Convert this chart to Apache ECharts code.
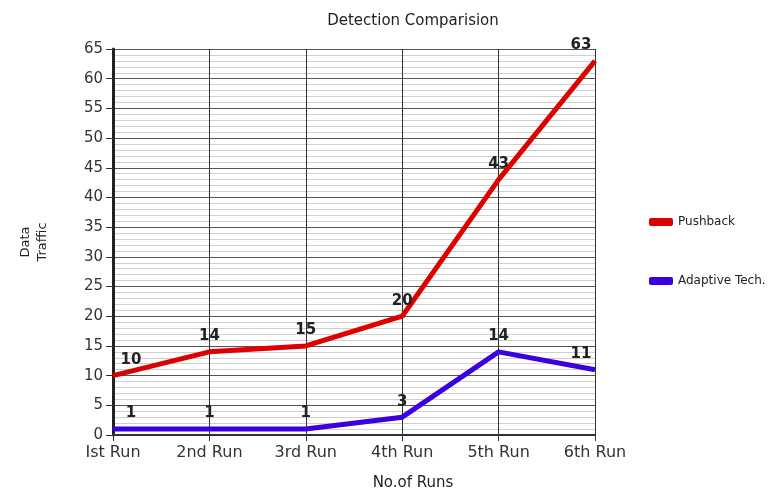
<!DOCTYPE html>
<html>
<head>
<meta charset="utf-8">
<script src="https://cdn.jsdelivr.net/npm/echarts@6/dist/echarts.min.js"></script>
<style>
  html, body { margin: 0; padding: 0; background: #fff; }
  #chart { width: 771px; height: 488px; }
</style>
</head>
<body>
<div id="chart"></div>
<script>
const runs = ['Ist Run', '2nd Run', '3rd Run', '4th Run', '5th Run', '6th Run'];
const pushback = [10, 14, 15, 20, 43, 63];
const adaptive = [1, 1, 1, 3, 14, 11];

const chart = echarts.init(document.getElementById('chart'), null, { renderer: 'canvas' });

// nudge first/last labels so they stay inside the plot like the original
const withLabels = (vals) => vals.map((v, i) => {
    let off = [0, 0];
    if (i === 0) off = [18, 0];
    if (i === vals.length - 1) off = [-14, 0];
    return { value: v, label: { offset: off } };
});

const labelStyle = {
    show: true,
    position: 'top',
    distance: 8,
    fontSize: 15,
    fontWeight: 'bold',
    color: '#222',
    fontFamily: 'DejaVu Sans'
};

const option = {
    animation: false,
    textStyle: { fontFamily: 'DejaVu Sans' },
    title: [
        {
            text: 'Detection Comparision',
            left: 408, top: 9, textAlign: 'center',
            textStyle: { fontSize: 15, fontWeight: 'normal', color: '#222' }
        },
        {
            text: 'No.of Runs',
            left: 408, top: 471, textAlign: 'center',
            textStyle: { fontSize: 15, fontWeight: 'normal', color: '#222' }
        }
    ],
    legend: {
        orient: 'vertical',
        left: 644, top: 211,
        itemGap: 47,
        itemWidth: 24, itemHeight: 8,
        icon: 'roundRect',
        textStyle: { fontSize: 12, color: '#222' },
        data: ['Pushback', 'Adaptive Tech.']
    },
    grid: { left: 113, right: 176, top: 49, bottom: 53 },
    xAxis: {
        type: 'category',
        data: runs,
        boundaryGap: false,
        axisLine: { lineStyle: { color: '#333', width: 2 } },
        axisTick: { show: true, length: 6, lineStyle: { color: '#333' } },
        axisLabel: { fontSize: 16, color: '#333', margin: 10 },
        splitLine: { show: true, lineStyle: { color: '#333', width: 1 } }
    },
    yAxis: {
        type: 'value',
        min: 0, max: 65, interval: 5,
        name: 'Data\nTraffic',
        nameLocation: 'middle',
        nameRotate: 90,
        nameGap: 62,
        nameTextStyle: { fontSize: 13, color: '#222', lineHeight: 17 },
        axisLine: { show: true, lineStyle: { color: '#222', width: 3 } },
        axisTick: { show: true, length: 7, lineStyle: { color: '#333' } },
        axisLabel: { fontSize: 15, color: '#333', margin: 10 },
        splitLine: { show: true, lineStyle: { color: '#555', width: 1 } },
        minorTick: { show: false, splitNumber: 5 },
        minorSplitLine: { show: true, lineStyle: { color: '#cfcfcf', width: 1 } }
    },
    series: [
        {
            name: 'Pushback',
            type: 'line',
            data: withLabels(pushback),
            symbol: 'circle',
            symbolSize: 0.1,
            showSymbol: true,
            color: '#dd0000',
            lineStyle: { width: 5, color: '#dd0000' },
            label: labelStyle
        },
        {
            name: 'Adaptive Tech.',
            type: 'line',
            data: withLabels(adaptive),
            symbol: 'circle',
            symbolSize: 0.1,
            showSymbol: true,
            color: '#3a00dd',
            lineStyle: { width: 5, color: '#3a00dd' },
            label: labelStyle
        }
    ]
};

chart.setOption(option);
</script>
</body>
</html>
